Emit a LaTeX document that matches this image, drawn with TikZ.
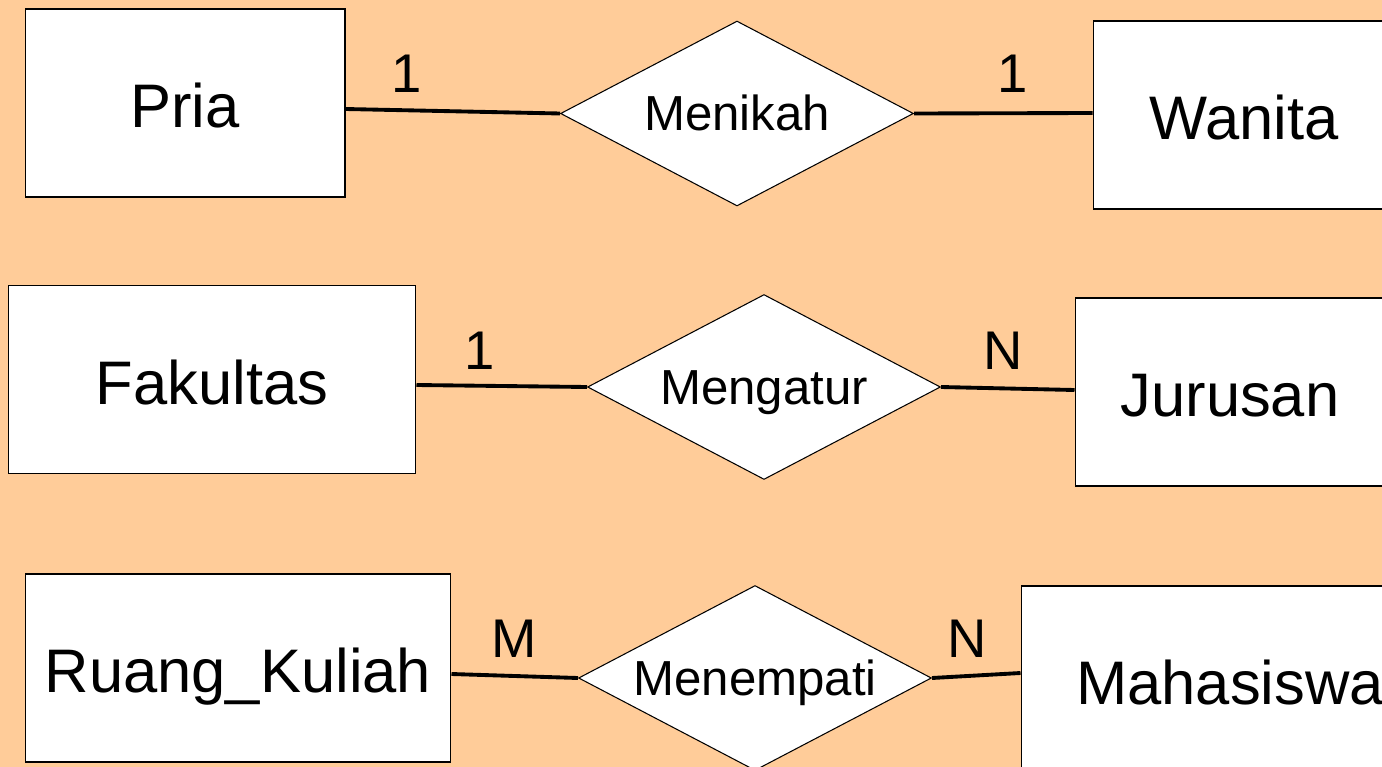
\documentclass[tikz,border=0pt]{standalone}
\usepackage{fontspec}
\setmainfont{Liberation Sans}
\usetikzlibrary{shapes.geometric,calc}
\definecolor{bgpeach}{RGB}{255,204,153}

\begin{document}
\begin{tikzpicture}[
    x=0.02cm, y=-0.02cm,
    entity/.style={draw, line width=0.6pt, fill=white, minimum height=3.76cm, inner sep=0pt,
        font=\fontsize{35}{40}\selectfont, text height=28pt, text depth=0pt},
    relation/.style={draw, line width=0.6pt, fill=white, diamond, aspect=1.91, inner sep=0pt,
        minimum width=7.06cm, minimum height=3.7cm,
        font=\fontsize{28}{32}\selectfont, text height=19.6pt, text depth=0pt},
    card/.style={font=\fontsize{31}{36}\selectfont, text height=22.3pt, text depth=0pt, inner sep=0pt},
    link/.style={line width=2.2pt}
]

% background and frame
\fill[bgpeach] (0,0) rectangle (1382,767);
\useasboundingbox (0,0) rectangle (1382,767);
\clip (0,0) rectangle (1382,767);

% Pria - Menikah - Wanita
\node[entity, minimum width=6.4cm] (pria) at (185,103) {Pria};
\node[relation] (menikah) at (737,113.5) {Menikah};
\node[entity, minimum width=6.04cm] (wanita) at (1244,115) {Wanita};

% Fakultas - Mengatur - Jurusan
\node[entity, minimum width=8.16cm] (fakultas) at (212,379.5) {Fakultas};
\node[relation] (mengatur) at (764,387) {Mengatur};
\node[entity, minimum width=6.2cm] (jurusan) at (1230,392) {Jurusan};

% Ruang_Kuliah - Menempati - Mahasiswa
\node[entity, minimum width=8.52cm] (ruang) at (238,668) {Ruang\_Kuliah};
\node[relation] (menempati) at (755,678) {Menempati};
\node[entity, minimum width=8.36cm] (mahasiswa) at (1230,680) {Mahasiswa};

% connectors
\draw[link] ($(pria.east)+(0,6)$) -- (menikah.west);
\draw[link] (menikah.east) -- ($(wanita.west)+(0,-2)$);
\draw[link] ($(fakultas.east)+(0,5.5)$) -- (mengatur.west);
\draw[link] (mengatur.east) -- ($(jurusan.west)+(0,-2)$);
\draw[link] ($(ruang.east)+(0,6)$) -- (menempati.west);
\draw[link] (menempati.east) -- ($(mahasiswa.west)+(0,-7)$);

% cardinalities
\node[card] (c1) at (407,73) {1};
\node[card] (c2) at (1013,73) {1};
\node[card] (c3) at (480,350) {1};
\node[card] (c4) at (1003,350) {N};
\node[card] (c5) at (514,638) {M};
\node[card] (c6) at (967,638) {N};

\end{tikzpicture}
\end{document}
